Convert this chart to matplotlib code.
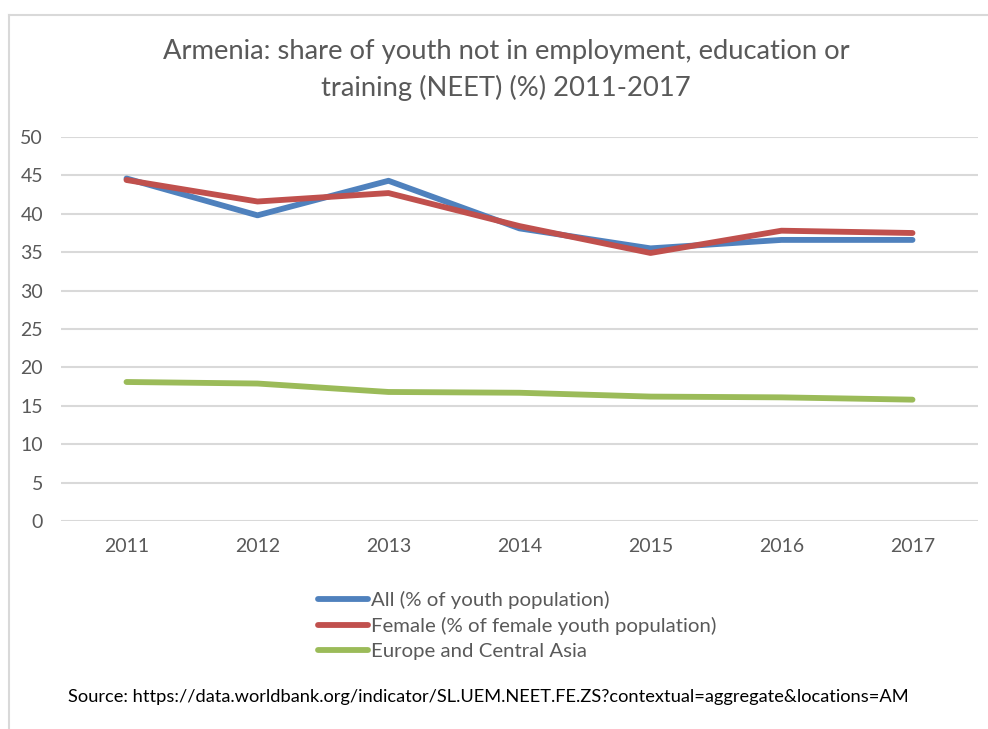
import matplotlib.pyplot as plt
from matplotlib.lines import Line2D

years = ["2011", "2012", "2013", "2014", "2015", "2016", "2017"]
neet_all = [44.6, 39.8, 44.3, 38.1, 35.5, 36.6, 36.6]
neet_female = [44.4, 41.6, 42.7, 38.4, 34.9, 37.8, 37.5]
neet_eca = [18.1, 17.9, 16.8, 16.7, 16.2, 16.1, 15.8]
yticks = [0, 5, 10, 15, 20, 25, 30, 35, 40, 45, 50]

labels = [
    "All (% of youth population)",
    "Female (% of female youth population)",
    "Europe and Central Asia",
]
colors = ["#4F81BD", "#C0504D", "#9BBB59"]
text_gray = "#595959"
grid_gray = "#D9D9D9"

plt.rcParams["font.family"] = ["Lato", "DejaVu Sans"]

W, H = 988, 729
fig = plt.figure(figsize=(W / 100, H / 100), dpi=100)
ax = fig.add_axes([61 / W, 1 - 521 / H, (978 - 61) / W, (521 - 137) / H])

x = range(len(years))
for series, color, label in zip([neet_all, neet_female, neet_eca], colors, labels):
    ax.plot(x, series, color=color, lw=4.2, label=label,
            solid_capstyle="round", solid_joinstyle="round")

ax.set_xlim(-0.5, len(years) - 0.5)
ax.set_ylim(0, 50)
ax.set_yticks(yticks)
ax.set_xticks(list(x))
ax.set_xticklabels(years)
ax.yaxis.grid(True, color=grid_gray, lw=1.5)
ax.set_axisbelow(True)
for side in ["top", "right", "left", "bottom"]:
    ax.spines[side].set_visible(False)
ax.tick_params(axis="both", length=0, labelsize=14, labelcolor=text_gray)
ax.tick_params(axis="y", pad=13)
ax.tick_params(axis="x", pad=12)

fig.text(506 / W, 1 - 52 / H,
         "Armenia: share of youth not in employment, education or",
         ha="center", va="center", fontsize=19.7, color=text_gray)
fig.text(506 / W, 1 - 88 / H, "training (NEET) (%) 2011-2017",
         ha="center", va="center", fontsize=19.7, color=text_gray)

leg = ax.legend(loc="upper left", bbox_to_anchor=(318 / W, 1 - 591 / H),
                bbox_transform=fig.transFigure, frameon=False, fontsize=14.7,
                handlelength=2.45, handletextpad=0.15, labelspacing=0.38,
                borderpad=0, borderaxespad=0)
for t in leg.get_texts():
    t.set_color(text_gray)

fig.text(68 / W, 1 - 697 / H,
         "Source: https://data.worldbank.org/indicator/SL.UEM.NEET.FE.ZS?contextual=aggregate&locations=AM",
         ha="left", va="center", fontsize=13.15, color="black")

# chart area frame (open on the right and bottom)
fig.add_artist(Line2D([9 / W, 9 / W], [0, 1 - 15 / H], color=grid_gray, lw=1.5))
fig.add_artist(Line2D([9 / W, 1], [1 - 15 / H, 1 - 15 / H], color=grid_gray, lw=1.5))

fig.savefig("out.png", dpi=100)
